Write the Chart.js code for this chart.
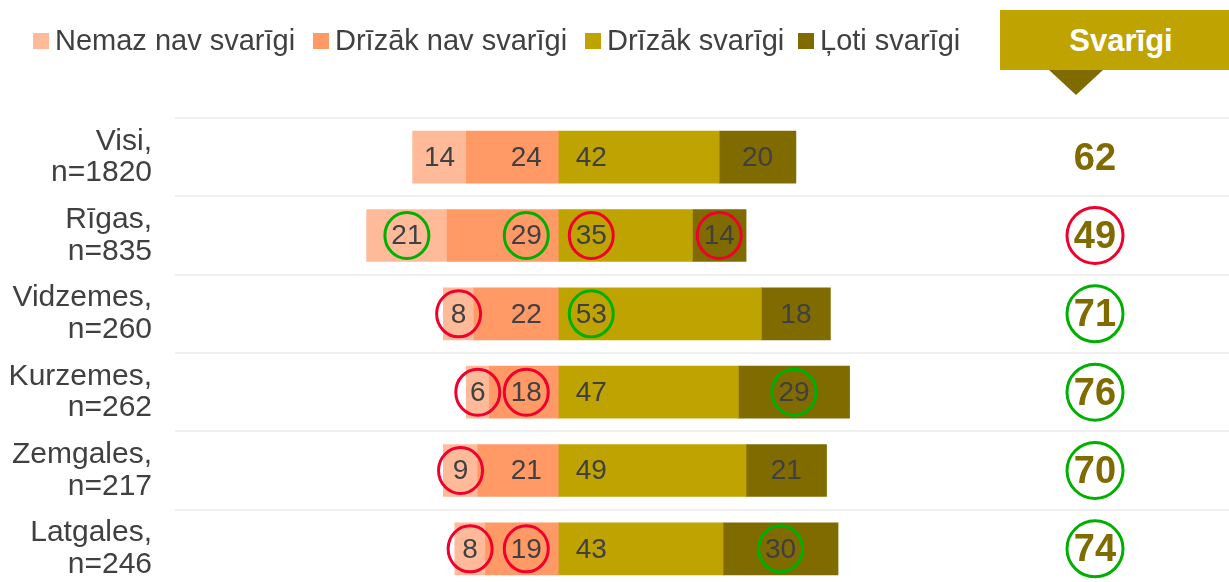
<!DOCTYPE html>
<html>
<head>
<meta charset="utf-8">
<script src="https://cdn.jsdelivr.net/npm/chart.js@4.4.0/dist/chart.umd.min.js"></script>
<style>
    html, body { margin: 0; padding: 0; background: #fff; overflow: hidden; }
    #wrap { position: relative; width: 1229px; height: 590px; }
    #chart { position: absolute; left: 0; top: 0; }
    #legend { position: absolute; left: 0; top: 0; width: 1000px; height: 80px; }
    .item { position: absolute; top: 24px; font: 29px "Liberation Sans", Arial, sans-serif; color: #404040; white-space: nowrap; }
    .sw { display: inline-block; width: 16px; height: 16px; margin-right: 6px; vertical-align: 1px; }
    #hdr { position: absolute; left: 1000px; top: 10px; width: 242px; height: 60px; background: #bfa300;
           color: #fff; font: bold 31px "Liberation Sans", Arial, sans-serif; text-align: center; line-height: 62px; }
    #tri { position: absolute; left: 1049px; top: 70px; width: 0; height: 0;
           border-left: 27px solid transparent; border-right: 27px solid transparent; border-top: 25px solid #7f6b00; }
</style>
</head>
<body>
<div id="wrap">
    <canvas id="chart" width="1229" height="590"></canvas>
    <div id="legend"></div>
    <div id="hdr">Svarīgi</div>
    <div id="tri"></div>
</div>
<script>
const categories = [
    ['Visi,', 'n=1820'],
    ['Rīgas,', 'n=835'],
    ['Vidzemes,', 'n=260'],
    ['Kurzemes,', 'n=262'],
    ['Zemgales,', 'n=217'],
    ['Latgales,', 'n=246']
];
const seriesNames = ['Nemaz nav svarīgi', 'Drīzāk nav svarīgi', 'Drīzāk svarīgi', 'Ļoti svarīgi'];
const nemaz = [14, 21, 8, 6, 9, 8];
const drizakNav = [24, 29, 22, 18, 21, 19];
const drizakSvarigi = [42, 35, 53, 47, 49, 43];
const lotiSvarigi = [20, 14, 18, 29, 21, 30];
const svarigi = [62, 49, 71, 76, 70, 74];

// significance: 'up' = green circle, 'down' = red circle
const nemazSig = [null, 'up', 'down', 'down', 'down', 'down'];
const drizakNavSig = [null, 'up', null, 'down', null, 'down'];
const drizakSvarigiSig = [null, 'down', 'up', null, null, null];
const lotiSig = [null, 'down', null, 'up', null, 'up'];
const svarigiSig = [null, 'down', 'up', 'up', 'up', 'up'];

const colors = ['#ffbb99', '#ff9966', '#bfa300', '#7f6b00'];
const sigColor = { up: '#00b000', down: '#f0002c' };
const FONT = '"Liberation Sans", Arial, sans-serif';

// legend (html)
const legendPos = [33, 313, 585, 798];
const legend = document.getElementById('legend');
seriesNames.forEach((name, i) => {
    const d = document.createElement('div');
    d.className = 'item';
    d.style.left = legendPos[i] + 'px';
    d.innerHTML = `<span class="sw" style="background:${colors[i]}"></span>${name}`;
    legend.appendChild(d);
});

function ring(ctx, x, y, rx, ry, color) {
    ctx.save();
    ctx.beginPath();
    ctx.ellipse(x, y, rx, ry, 0, 0, Math.PI * 2);
    ctx.lineWidth = 3;
    ctx.strokeStyle = color;
    ctx.stroke();
    ctx.restore();
}

const labelPlugin = {
    id: 'labels',
    afterDatasetsDraw(chart) {
        const ctx = chart.ctx;
        ctx.save();
        ctx.font = '28px ' + FONT;
        ctx.fillStyle = '#404040';
        ctx.textAlign = 'center';
        ctx.textBaseline = 'middle';
        chart.data.datasets.forEach((ds, di) => {
            const meta = chart.getDatasetMeta(di);
            meta.data.forEach((bar, i) => {
                let x;
                if (ds.labelPos === 'end') x = bar.base - 32;
                else if (ds.labelPos === 'start') x = bar.base + 33;
                else x = (bar.x + bar.base) / 2;
                const y = bar.y + 1;
                ctx.fillText(Math.abs(ds.data[i]), x, y);
                const s = ds.sig[i];
                if (s) ring(ctx, x, y - 1, 22, 23, sigColor[s]);
            });
        });
        // Svarīgi column
        const ys = chart.scales.y;
        ctx.font = 'bold 38px ' + FONT;
        ctx.fillStyle = '#7f6b00';
        svarigi.forEach((v, i) => {
            const y = ys.getPixelForValue(i);
            ctx.fillText(v, 1095, y + 2);
            if (svarigiSig[i]) ring(ctx, 1095, y, 28, 28, sigColor[svarigiSig[i]]);
        });
        ctx.restore();
    }
};

new Chart(document.getElementById('chart'), {
    type: 'bar',
    data: {
        labels: categories,
        datasets: [
            { label: seriesNames[1], data: drizakNav.map(v => -v), backgroundColor: colors[1], labelPos: 'end', sig: drizakNavSig },
            { label: seriesNames[0], data: nemaz.map(v => -v), backgroundColor: colors[0], labelPos: 'center', sig: nemazSig },
            { label: seriesNames[2], data: drizakSvarigi, backgroundColor: colors[2], labelPos: 'start', sig: drizakSvarigiSig },
            { label: seriesNames[3], data: lotiSvarigi, backgroundColor: colors[3], labelPos: 'center', sig: lotiSig }
        ]
    },
    options: {
        indexAxis: 'y',
        responsive: false,
        animation: false,
        barThickness: 52,
        layout: { padding: { top: 118, bottom: 2, left: 0, right: 0 } },
        plugins: { legend: { display: false }, tooltip: { enabled: false } },
        scales: {
            x: { stacked: true, display: false, min: -100, max: 175 },
            y: {
                stacked: true,
                border: { display: false },
                grid: { color: '#efefef', lineWidth: 2, drawTicks: false },
                ticks: { font: { family: FONT, size: 30, lineHeight: 1.05 }, color: '#404040', padding: 23 },
                afterFit(scale) {
                    scale.width = 175;
                    scale.paddingTop = 0;
                    scale.paddingBottom = 0;
                }
            }
        }
    },
    plugins: [labelPlugin]
});
</script>
</body>
</html>
